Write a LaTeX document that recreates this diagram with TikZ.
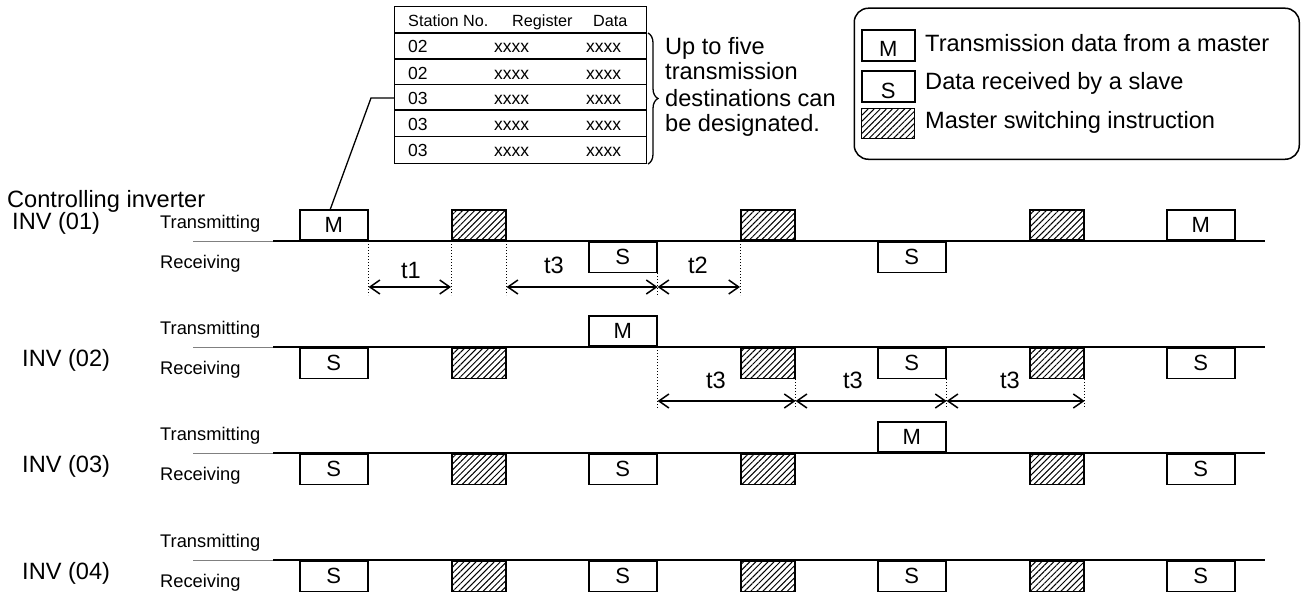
\documentclass[tikz,border=0pt]{standalone}
\usepackage{fontspec}
\setmainfont{Liberation Sans}
\usetikzlibrary{patterns.meta,arrows.meta,decorations.pathreplacing}
\tikzset{
  big/.style={font=\fontsize{23.6}{26}\selectfont, inner sep=0pt},
  lbl/.style={font=\fontsize{18.3}{20}\selectfont, inner sep=0pt},
  tbh/.style={font=\fontsize{16.2}{19}\selectfont, inner sep=0pt},
  tbt/.style={font=\fontsize{17.5}{19}\selectfont, inner sep=0pt},
  letter/.style={font=\fontsize{22}{24}\selectfont, inner sep=0pt},
  box/.style={draw=black, line width=1.6pt, fill=white, inner sep=0pt, minimum height=30.5pt, minimum width=68pt, font=\fontsize{22}{24}\selectfont},
  hbox/.style={draw=black, line width=1.6pt, inner sep=0pt, minimum width=54pt, minimum height=30.5pt, pattern={Lines[angle=45,distance=4.3pt,line width=1pt]}},
  tm/.style={box, anchor=south west},
  rm/.style={box, anchor=north west},
  th/.style={hbox, anchor=south west},
  rh/.style={hbox, anchor=north west},
  dotv/.style={line width=1pt, dash pattern=on 1pt off 2pt},
  dimarr/.style={{Straight Barb[length=10pt,width=14pt]}-{Straight Barb[length=10pt,width=14pt]}, line width=1.5pt},
  tl/.style={big, anchor=base},
  signal/.style={line width=1.6pt},
  lead/.style={gray, line width=0.8pt},
}
\begin{document}
\begin{tikzpicture}[x=1pt,y=-1pt]
\fill[white] (0,0) rectangle (1301,594);
\useasboundingbox (0,0) rectangle (1301,594);

% ---------- table ----------
\node[draw, line width=1.3pt, minimum width=252pt, minimum height=157pt, anchor=north west, inner sep=0pt] (tbl) at (394,6) {};
\foreach \yy in {33,59,84.5,110,136.5} \draw[line width=1.2pt] (394,\yy) -- (646,\yy);
\node[tbh, anchor=base west] (hst) at (408,27) {Station No.};
\node[tbh, anchor=base west] (hrg) at (512,27) {Register};
\node[tbh, anchor=base west] (hdt) at (593,27) {Data};
\foreach \i/\s/\b in {1/02/53,2/02/79,3/03/104.5,4/03/130,5/03/156.5} {
  \node[tbt, anchor=base west] (st\i) at (408,\b) {\s};
  \node[tbt, anchor=base west] (rg\i) at (494,\b) {xxxx};
  \node[tbt, anchor=base west] (dt\i) at (586,\b) {xxxx};
}
\draw[line width=1.3pt, decorate, decoration={brace, amplitude=10pt}] (648,33) -- (648,164);
\node[big, anchor=base west] (br1) at (665,55) {Up to five};
\node[big, anchor=base west] (br2) at (665,80) {transmission};
\node[big, anchor=base west] (br3) at (665,106.5) {destinations can};
\node[big, anchor=base west] (br4) at (665,131.5) {be designated.};

% ---------- legend ----------
\node[draw, line width=1.5pt, rounded corners=14pt, minimum width=445pt, minimum height=151pt, anchor=north west, inner sep=0pt] (leg) at (853.5,7.5) {};
\node[box, minimum width=53pt, minimum height=31pt, anchor=north west] (lm) at (861,29) {};
\node[letter, anchor=base] (lmt) at (lm.south |- 0,57) {M};
\node[box, minimum width=53pt, minimum height=31pt, anchor=north west] (ls) at (861,70) {};
\node[letter, anchor=base] (lst) at (ls.south |- 0,98) {S};
\node[hbox, minimum width=53pt, minimum height=30pt, anchor=north west] (lh) at (861,108) {};
\node[big, anchor=base west] (lt1) at (925,52) {Transmission data from a master};
\node[big, anchor=base west] (lt2) at (925,89.5) {Data received by a slave};
\node[big, anchor=base west] (lt3) at (925,128.5) {Master switching instruction};

% ---------- rows ----------
\node[big, anchor=base west] (ctl) at (7,207) {Controlling inverter};
\node[big, anchor=base west] (inv1) at (12,229) {INV (01)};
\node[big, anchor=base west] (inv2) at (22,366) {INV (02)};
\node[big, anchor=base west] (inv3) at (22,472) {INV (03)};
\node[big, anchor=base west] (inv4) at (22,579) {INV (04)};
\foreach \r/\y in {1/241,2/347,3/453,4/560} {
  \draw[lead] (193,\y) -- (273,\y);
  \draw[signal] (273,\y) -- (1265,\y);
  \node[lbl, anchor=base west] (tx\r) at (160,\y-12.5) {Transmitting};
  \node[lbl, anchor=base west] (rx\r) at (160,\y+27.5) {Receiving};
}

% row 1
\node[tm] (r1a) at (299,241) {M};
\node[th] (r1b) at (451,241) {};
\node[rm] (r1c) at (588,241) {S};
\node[th] (r1d) at (740,241) {};
\node[rm] (r1e) at (877,241) {S};
\node[th] (r1f) at (1029,241) {};
\node[tm] (r1g) at (1166,241) {M};
% row 2
\node[rm] (r2a) at (299,347) {S};
\node[rh] (r2b) at (451,347) {};
\node[tm] (r2c) at (588,347) {M};
\node[rh] (r2d) at (740,347) {};
\node[rm] (r2e) at (877,347) {S};
\node[rh] (r2f) at (1029,347) {};
\node[rm] (r2g) at (1166,347) {S};
% row 3
\node[rm] (r3a) at (299,453) {S};
\node[rh] (r3b) at (451,453) {};
\node[rm] (r3c) at (588,453) {S};
\node[rh] (r3d) at (740,453) {};
\node[tm] (r3e) at (877,453) {M};
\node[rh] (r3f) at (1029,453) {};
\node[rm] (r3g) at (1166,453) {S};
% row 4
\node[rm] (r4a) at (299,560) {S};
\node[rh] (r4b) at (451,560) {};
\node[rm] (r4c) at (588,560) {S};
\node[rh] (r4d) at (740,560) {};
\node[rm] (r4e) at (877,560) {S};
\node[rh] (r4f) at (1029,560) {};
\node[rm] (r4g) at (1166,560) {S};

% connector to table
\coordinate (bend) at (371,98);
\coordinate (mtop) at (330,210);
\draw[line width=1.3pt] (mtop) -- (bend) -- (bend -| tbl.west);

% ---------- timing dimensions row 1 ----------
\coordinate (ya) at (0,287);
\coordinate (yae) at (0,295);
\draw[dotv] (r1a.south east) -- (r1a.south east |- yae);
\draw[dotv] (r1b.south west) -- (r1b.south west |- yae);
\draw[dotv] (r1b.south east) -- (r1b.south east |- yae);
\draw[dotv] (r1c.south east) -- (r1c.south east |- yae);
\draw[dotv] (r1d.south west) -- (r1d.south west |- yae);
\draw[dimarr] (r1a.south east |- ya) -- (r1b.south west |- ya);
\draw[dimarr] (r1b.south east |- ya) -- (r1c.south east |- ya);
\draw[dimarr] (r1c.south east |- ya) -- (r1d.south west |- ya);
\node[tl] (lt1a) at (411,278) {t1};
\node[tl] (lt3a) at (554,273) {t3};
\node[tl] (lt2a) at (698,273) {t2};

% ---------- timing dimensions row 2 ----------
\coordinate (yb) at (0,401);
\coordinate (ybe) at (0,409);
\draw[dotv] (r2c.south east) -- (r2c.south east |- ybe);
\draw[dotv] (r2d.south east) -- (r2d.south east |- ybe);
\draw[dotv] (r2e.south east) -- (r2e.south east |- ybe);
\draw[dotv] (r2f.south east) -- (r2f.south east |- ybe);
\draw[dimarr] (r2c.south east |- yb) -- (r2d.south east |- yb);
\draw[dimarr] (r2d.south east |- yb) -- (r2e.south east |- yb);
\draw[dimarr] (r2e.south east |- yb) -- (r2f.south east |- yb);
\node[tl] (lt3b) at (716,388) {t3};
\node[tl] (lt3c) at (853,388) {t3};
\node[tl] (lt3d) at (1010,388) {t3};
\end{tikzpicture}
\end{document}
